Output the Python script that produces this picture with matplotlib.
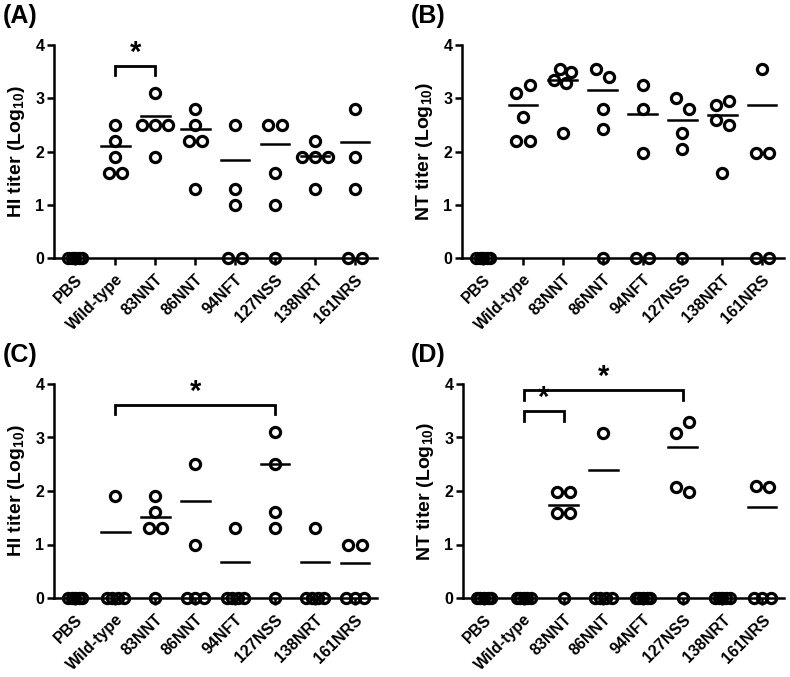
import numpy as np
import matplotlib
matplotlib.use("Agg")
import matplotlib.pyplot as plt

plt.rcParams['font.family'] = ['Liberation Sans', 'DejaVu Sans']
plt.rcParams['font.weight'] = 'bold'
plt.rcParams['mathtext.fontset'] = 'custom'
plt.rcParams['mathtext.rm'] = 'Liberation Sans:bold'
plt.rcParams['mathtext.bf'] = 'Liberation Sans:bold'

# grupe
groups = ['PBS', 'Wild-type', '83NNT', '86NNT', '94NFT', '127NSS', '138NRT', '161NRS']

# (A) HI titer
hi_a = [[0, 0, 0, 0, 0],
        [2.5, 2.2, 1.9, 1.6, 1.6],
        [3.1, 2.5, 2.5, 2.5, 1.9],
        [2.8, 2.5, 2.2, 2.2, 1.3],
        [2.5, 1.3, 1.0, 0, 0],
        [2.5, 2.5, 1.6, 1.0, 0],
        [2.2, 1.9, 1.9, 1.9, 1.3],
        [2.8, 1.9, 1.3, 0, 0]]
mean_a = [0, 2.11, 2.67, 2.42, 1.84, 2.14, 1.92, 2.17]

# (B) NT titer
nt_b = [[0, 0, 0, 0, 0],
        [3.10, 3.25, 2.65, 2.19, 2.19],
        [3.34, 3.55, 3.29, 3.49, 2.35],
        [3.55, 3.40, 2.80, 2.42, 0],
        [3.25, 2.80, 1.97, 0, 0],
        [3.00, 2.80, 2.35, 2.05, 0],
        [2.87, 2.95, 2.60, 2.50, 1.59],
        [3.55, 1.97, 1.97, 0, 0]]
mean_b = [0, 2.88, 3.34, 3.15, 2.70, 2.60, 2.68, 2.87]

# (C) HI titer
hi_c = [[0, 0, 0, 0, 0],
        [1.9, 0, 0, 0, 0],
        [1.9, 1.6, 1.3, 1.3, 0],
        [2.5, 1.0, 0, 0, 0],
        [1.3, 0, 0, 0, 0],
        [3.1, 2.5, 1.6, 1.3, 0],
        [1.3, 0, 0, 0, 0],
        [1.0, 1.0, 0, 0, 0]]
mean_c = [0, 1.23, 1.51, 1.82, 0.68, 2.51, 0.68, 0.65]

# (D) NT titer
nt_d = [[0, 0, 0, 0, 0],
        [0, 0, 0, 0, 0],
        [1.99, 1.99, 1.59, 1.59, 0],
        [3.09, 0, 0, 0, 0],
        [0, 0, 0, 0, 0],
        [3.08, 3.29, 2.08, 1.99, 0],
        [0, 0, 0, 0, 0],
        [2.10, 2.08, 0, 0, 0]]
mean_d = [0, 0, 1.74, 2.39, 0, 2.83, 0, 1.71]

# znacajnost: (grupa1, grupa2, visina)
sig_a = [(1, 2, 3.61)]
sig_b = []
sig_c = [(1, 5, 3.61)]
sig_d = [(1, 5, 3.89), (1, 2, 3.49)]

DX = 0.33   # sirina markera u jedinicama x ose
DY = 0.24   # visina markera u jedinicama y ose


def spread(vals):
    # rasporedi tacke sa bliskim vrednostima jednu pored druge
    order = sorted(range(len(vals)), key=lambda i: -vals[i])
    clusters = []
    for i in order:
        if clusters and vals[clusters[-1][-1]] - vals[i] < DY:
            clusters[-1].append(i)
        else:
            clusters.append([i])
    off = np.zeros(len(vals))
    for c in clusters:
        c = sorted(c)
        n = len(c)
        if n == 1:
            continue
        if n <= 2 or (n == 3 and max(vals[k] for k in c) > 0):
            step = DX
        elif n >= 5:
            step = 1.1 * DX / (n - 1)
        else:
            step = 1.3 * DX / (n - 1)
        for j, k in enumerate(c):
            off[k] = (j - (n - 1) / 2) * step
    return off


def panel(rect, data, means, sig, ylabel, letter, lpos):
    ax = fig.add_axes(rect)
    for g, vals in enumerate(data):
        off = spread(vals)
        ax.plot(g + off, vals, 'o', ms=7.3, mfc='none', mec='black', mew=2.3,
                clip_on=False, zorder=3)
        if means[g] > 0:
            ax.plot([g - 0.36, g + 0.36], [means[g], means[g]], color='black',
                    lw=1.8, zorder=2)
    for g1, g2, h in sig:
        ax.plot([g1, g1, g2, g2], [h - 0.18, h, h, h - 0.18], color='black',
                lw=2.0, clip_on=False, solid_joinstyle='miter')
        ax.text((g1 + g2) / 2, h - 0.02, '*', ha='center', va='bottom',
                fontsize=21, fontweight='bold')
    ax.set_xlim(-0.53, 7.55)
    ax.set_ylim(0, 4)
    ax.set_yticks([0, 1, 2, 3, 4])
    ax.set_xticks(range(len(groups)))
    ax.set_xticklabels(groups, rotation=45, ha='right', va='top',
                       rotation_mode='anchor', fontsize=11.5, fontweight='bold')
    ax.tick_params(axis='y', labelsize=11.5, width=1.8, length=5, pad=2)
    ax.tick_params(axis='x', width=1.8, length=5, pad=5)
    for s in ['top', 'right']:
        ax.spines[s].set_visible(False)
    for s in ['left', 'bottom']:
        ax.spines[s].set_linewidth(1.8)
    ax.set_ylabel(ylabel, fontsize=14, fontweight='bold', labelpad=6)
    fig.text(lpos[0] / 790, 1 - lpos[1] / 677, letter, ha='left', va='top',
             fontsize=18, fontweight='bold')
    return ax


fig = plt.figure(figsize=(7.9, 6.77), dpi=100)

hi_lab = r'HI titer (Log$_{\mathbf{10}}$)'
nt_lab = r'NT titer (Log$_{\mathbf{10}}$)'

panel([54 / 790, 1 - 258 / 677, 323 / 790, 213 / 677], hi_a, mean_a, sig_a, hi_lab, '(A)', (3, 4))
panel([462 / 790, 1 - 258 / 677, 322 / 790, 213 / 677], nt_b, mean_b, sig_b, nt_lab, '(B)', (411, 4))
panel([54 / 790, 1 - 598 / 677, 323 / 790, 214 / 677], hi_c, mean_c, sig_c, hi_lab, '(C)', (3, 343))
panel([463 / 790, 1 - 598 / 677, 321 / 790, 214 / 677], nt_d, mean_d, sig_d, nt_lab, '(D)', (411, 343))

plt.savefig('out.png', dpi=100)
